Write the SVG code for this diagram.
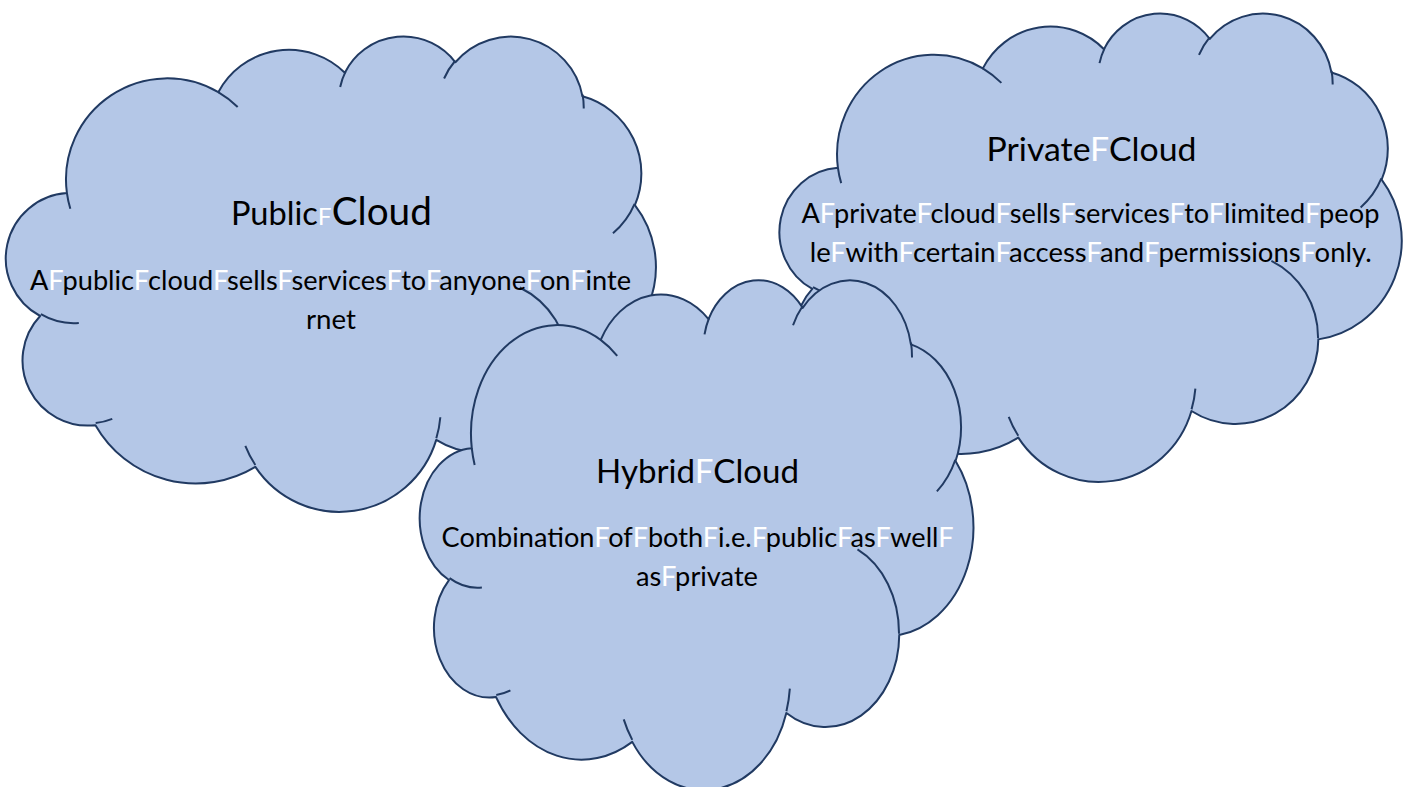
<svg xmlns="http://www.w3.org/2000/svg" width="1405" height="787" viewBox="0 0 1405 787">
<style>
.cloud{fill:#B4C7E7;stroke:#213A62;stroke-width:2;vector-effect:non-scaling-stroke;stroke-linejoin:round}
.fold{fill:none;stroke:#213A62;stroke-width:2;vector-effect:non-scaling-stroke}
text{font-family:Lato,"Liberation Sans",sans-serif;fill:#000000}
.t{font-size:32px}
.tb{font-size:38px}
.ts{font-size:24px}
.b{font-size:27px}
.sp{fill:#FFFFFF}
</style>
<defs>
<path id="cloudShape" class="cloud" d="M39,143.7 A67.53,91.9 0 0 1 140.05,52.02 A53.33,72.67 0 0 1 224.54,34.3 A43.65,59.45 0 0 1 298.31,24.79 A48.57,65.95 0 0 1 383.16,55.74 A53.33,72.73 0 0 1 418.16,154.57 A67.75,92.2 0 0 1 374.02,302 A57.85,78.67 0 0 1 285.54,368.1 A67.52,92.15 0 0 1 164.79,392.61 A77.2,105.43 0 0 1 58.04,354.67 A43.6,59.18 0 0 1 21.13,255.45 A43.45,59.45 0 0 1 39,143.7 Z"/>
<path id="cloudFolds" class="fold" d="M46.93,261.77 A43.45,59.45 0 0 1 21.6,253.8 M69.28,348.99 A43.6,59.18 0 0 1 58.2,352.81 M164.78,390.9 A67.52,92.15 0 0 1 158.1,373.5 M288.27,347.51 A67.52,92.15 0 0 1 285.6,366.6 M341.29,229.54 A57.85,78.67 0 0 1 373.81,300.9 M417.98,153.54 A53.33,72.73 0 0 1 403.51,180.3 M383.24,54.26 A48.57,65.95 0 0 1 384,66.9 M290.78,39.52 A48.57,65.95 0 0 1 298.2,23.41 M221.41,47.2 A43.65,59.45 0 0 1 225,33.3 M140,51.92 A67.53,91.9 0 0 1 152.99,65.4 M41.27,157.89 A67.53,91.9 0 0 1 39,143.71"/>
</defs>
<rect x="0" y="0" width="1405" height="787" fill="#FFFFFF"/>
<g id="connectors"></g>
<g id="public-cloud">
<g transform="translate(8.5,35) scale(1.498,1.10)">
<use href="#cloudShape"/>
<use href="#cloudFolds"/>
</g>
<text x="331.4" y="224.5" text-anchor="middle" textLength="201" lengthAdjust="spacingAndGlyphs"><tspan class="t">Public</tspan><tspan class="ts sp">F</tspan><tspan class="tb">Cloud</tspan></text>
<text class="b" x="330.5" y="290" text-anchor="middle" textLength="601" lengthAdjust="spacingAndGlyphs">A<tspan class="sp">F</tspan>public<tspan class="sp">F</tspan>cloud<tspan class="sp">F</tspan>sells<tspan class="sp">F</tspan>services<tspan class="sp">F</tspan>to<tspan class="sp">F</tspan>anyone<tspan class="sp">F</tspan>on<tspan class="sp">F</tspan>inte</text>
<text class="b" x="331" y="328.5" text-anchor="middle" textLength="50" lengthAdjust="spacingAndGlyphs">rnet</text>
</g>
<g id="private-cloud">
<g transform="translate(782,12) scale(1.434,1.084)">
<use href="#cloudShape"/>
<use href="#cloudFolds"/>
</g>
<text class="t" x="1091.5" y="160.7" text-anchor="middle" textLength="210" lengthAdjust="spacingAndGlyphs">Private<tspan class="sp">F</tspan>Cloud</text>
<text class="b" x="1090.4" y="223" text-anchor="middle" textLength="578" lengthAdjust="spacingAndGlyphs">A<tspan class="sp">F</tspan>private<tspan class="sp">F</tspan>cloud<tspan class="sp">F</tspan>sells<tspan class="sp">F</tspan>services<tspan class="sp">F</tspan>to<tspan class="sp">F</tspan>limited<tspan class="sp">F</tspan>peop</text>
<text class="b" x="1090.7" y="261.5" text-anchor="middle" textLength="562" lengthAdjust="spacingAndGlyphs">le<tspan class="sp">F</tspan>with<tspan class="sp">F</tspan>certain<tspan class="sp">F</tspan>access<tspan class="sp">F</tspan>and<tspan class="sp">F</tspan>permissions<tspan class="sp">F</tspan>only.</text>
</g>
<g id="hybrid-cloud">
<g transform="translate(422,278.6) scale(1.276,1.18)">
<use href="#cloudShape"/>
<use href="#cloudFolds"/>
</g>
<text class="t" x="697.5" y="483.3" text-anchor="middle" textLength="203" lengthAdjust="spacingAndGlyphs">Hybrid<tspan class="sp">F</tspan>Cloud</text>
<text class="b" x="697.6" y="546.7" text-anchor="middle" textLength="512" lengthAdjust="spacingAndGlyphs">Combination<tspan class="sp">F</tspan>of<tspan class="sp">F</tspan>both<tspan class="sp">F</tspan>i.e.<tspan class="sp">F</tspan>public<tspan class="sp">F</tspan>as<tspan class="sp">F</tspan>well<tspan class="sp">F</tspan></text>
<text class="b" x="697" y="586" text-anchor="middle" textLength="122" lengthAdjust="spacingAndGlyphs">as<tspan class="sp">F</tspan>private</text>
</g>
</svg>
